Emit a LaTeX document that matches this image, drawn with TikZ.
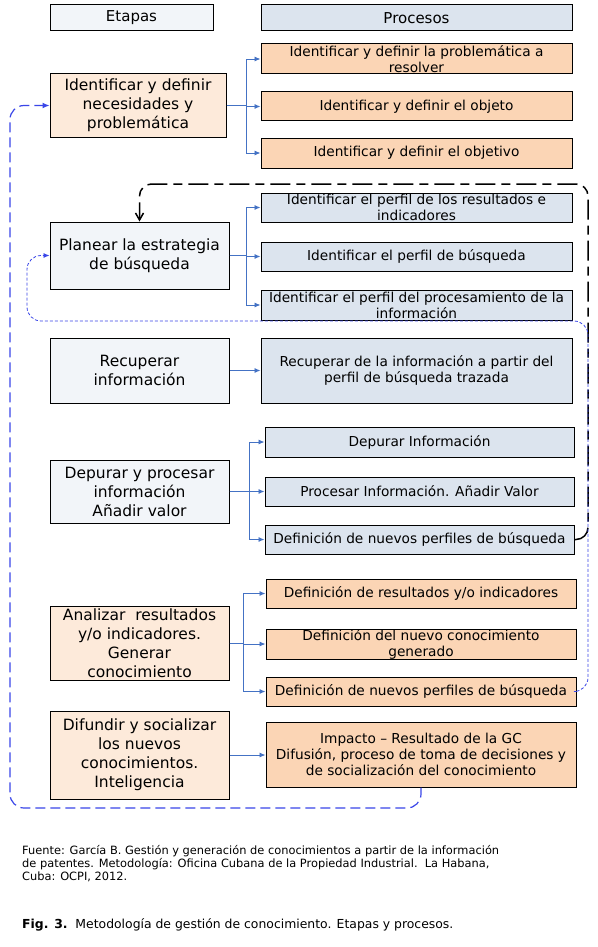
\documentclass[tikz,border=0pt]{standalone}
\usepackage{fontspec}
\setmainfont{DejaVu Sans}
\usetikzlibrary{arrows.meta}
\definecolor{grisazul}{HTML}{F2F5F9}
\definecolor{azulclaro}{HTML}{DCE4EE}
\definecolor{melocoton}{HTML}{FDEADA}
\definecolor{naranja}{HTML}{FBD5B5}
\definecolor{flechaazul}{HTML}{4472C4}
\definecolor{lazoazul}{HTML}{3A46E8}
\tikzset{
  etapa/.style={draw,line width=1pt,align=center,inner sep=0pt,minimum width=179pt,font=\fontsize{15.5}{19}\selectfont},
  proceso/.style={draw,line width=1pt,align=center,inner sep=0pt,minimum width=310pt,font=\fontsize{13.7}{16}\selectfont},
  cabecera/.style={draw,line width=1pt,inner sep=0pt,minimum height=26pt,font=\fontsize{15}{18}\selectfont},
  rama/.style={flechaazul,line width=0.9pt,-{Latex[length=6pt,width=5pt]}},
  lazonegro/.style={black,line width=1.5pt,rounded corners=12pt,dash pattern=on 20pt off 6pt on 9pt off 6pt,-{Straight Barb[length=7pt,width=8pt]}},
  lazofino/.style={lazoazul,line width=0.8pt,rounded corners=14pt,dash pattern=on 3pt off 2pt,-{Latex[length=6pt,width=5pt]}},
  lazoancho/.style={lazoazul,line width=1.2pt,rounded corners=14pt,dash pattern=on 10pt off 5pt,-{Latex[length=7pt,width=6pt]}},
  nota/.style={inner sep=0pt,align=left,font=\fontsize{11.4}{13}\selectfont}
}
\begin{document}
\begin{tikzpicture}[x=1pt,y=-1pt]
    \fill[white] (0,0) rectangle (597,947);
    \useasboundingbox (0,0) rectangle (597,947);
    % Headers
    \node[cabecera,fill=grisazul,minimum width=163pt] (etapas) at (131.5,18) {Etapas};
    \node[cabecera,fill=azulclaro,minimum width=311pt] (procesos) at (416.5,18) {Procesos};
    % Stages
    \node[etapa,fill=melocoton,minimum width=176pt,minimum height=63pt] (e1) at (138,105.5) {Identificar y definir\\necesidades y\\problemática};
    \node[etapa,fill=grisazul,minimum height=67pt] (e2) at (139.5,255.5) {Planear la estrategia\\de búsqueda};
    \node[etapa,fill=grisazul,minimum height=65pt] (e3) at (139.5,370.5) {Recuperar\\información};
    \node[etapa,fill=grisazul,minimum height=63pt] (e4) at (139.5,491.5) {Depurar y procesar\\información\\Añadir valor};
    \node[etapa,fill=melocoton,minimum height=74pt] (e5) at (139.5,643) {Analizar\ \ resultados\\y/o indicadores.\\Generar\\conocimiento};
    \node[etapa,fill=melocoton,minimum height=88pt] (e6) at (139.5,755) {Difundir y socializar\\los nuevos\\conocimientos.\\Inteligencia};
    % Processes
    \node[proceso,fill=naranja,minimum width=311pt,minimum height=30pt] (p11) at (416.5,59) {Identificar y definir la problemática a\\resolver};
    \node[proceso,fill=naranja,minimum width=311pt,minimum height=29pt] (p12) at (416.5,106.5) {Identificar y definir el objeto};
    \node[proceso,fill=naranja,minimum width=311pt,minimum height=30pt] (p13) at (416.5,153) {Identificar y definir el objetivo};
    \node[proceso,fill=azulclaro,minimum width=311pt,minimum height=29pt] (p21) at (416.5,207.5) {Identificar el perfil de los resultados e\\indicadores};
    \node[proceso,fill=azulclaro,minimum width=311pt,minimum height=29pt] (p22) at (416.5,256.5) {Identificar el perfil de búsqueda};
    \node[proceso,fill=azulclaro,minimum width=311pt,minimum height=30pt] (p23) at (416.5,305) {Identificar el perfil del procesamiento de la\\información};
    \node[proceso,fill=azulclaro,minimum width=311pt,minimum height=65pt] (p31) at (416.5,370.5) {Recuperar de la información a partir del\\perfil de búsqueda trazada};
    \node[proceso,fill=azulclaro,minimum width=309pt,minimum height=30pt] (p41) at (419.5,442) {Depurar Información};
    \node[proceso,fill=azulclaro,minimum width=309pt,minimum height=29pt] (p42) at (419.5,491.5) {Procesar Información. Añadir Valor};
    \node[proceso,fill=azulclaro,minimum width=309pt,minimum height=29pt] (p43) at (419.5,539.5) {Definición de nuevos perfiles de búsqueda};
    \node[proceso,fill=naranja,minimum height=29pt] (p51) at (421,593.5) {Definición de resultados y/o indicadores};
    \node[proceso,fill=naranja,minimum height=30pt] (p52) at (421,644) {Definición del nuevo conocimiento\\generado};
    \node[proceso,fill=naranja,minimum height=29pt] (p53) at (421,691.5) {Definición de nuevos perfiles de búsqueda};
    \node[proceso,fill=naranja,minimum height=65pt] (p61) at (421,754.5) {Impacto – Resultado de la GC\\Difusión, proceso de toma de decisiones y\\de socialización del conocimiento};
    % Stage to process links
    \foreach \p in {p11,p12,p13}
        \draw[rama] (e1.east) -- ++(20,0) |- (\p.west);
    \foreach \p in {p21,p22,p23}
        \draw[rama] (e2.east) -- ++(17,0) |- (\p.west);
    \foreach \p in {p41,p42,p43}
        \draw[rama] (e4.east) -- ++(20,0) |- (\p.west);
    \foreach \p in {p51,p52,p53}
        \draw[rama] (e5.east) -- ++(14,0) |- (\p.west);
    \draw[rama] (e3.east) -- (p31.west);
    \draw[rama] (e6.east) -- (e6.east -| p61.west);
    % Feedback loops
    \coordinate (vuelta1) at (588,184);
    \coordinate (vuelta2) at (588,321);
    \coordinate (vuelta3) at (27,321);
    \coordinate (vuelta4) at (10,808);
    \draw[lazonegro] (p43.east) -| (vuelta1) -| (e2.north);
    \draw[lazofino] (p53.east) -| (vuelta2) -- (vuelta3) |- (e2.west);
    \draw[lazoancho] (p61.south) |- (vuelta4) |- (e1.west);
    % Source and caption
    \node[nota,anchor=north west] (fuente) at (22,845) {Fuente: García B. Gestión y generación de conocimientos a partir de la información\\de patentes. Metodología: Oficina Cubana de la Propiedad Industrial.\ \ La Habana,\\Cuba: OCPI, 2012.};
    \node[nota,anchor=west,font=\fontsize{12.4}{14}\selectfont] (figura) at (22,925) {\textbf{Fig. 3.}\ \ Metodología de gestión de conocimiento. Etapas y procesos.};
\end{tikzpicture}
\end{document}
